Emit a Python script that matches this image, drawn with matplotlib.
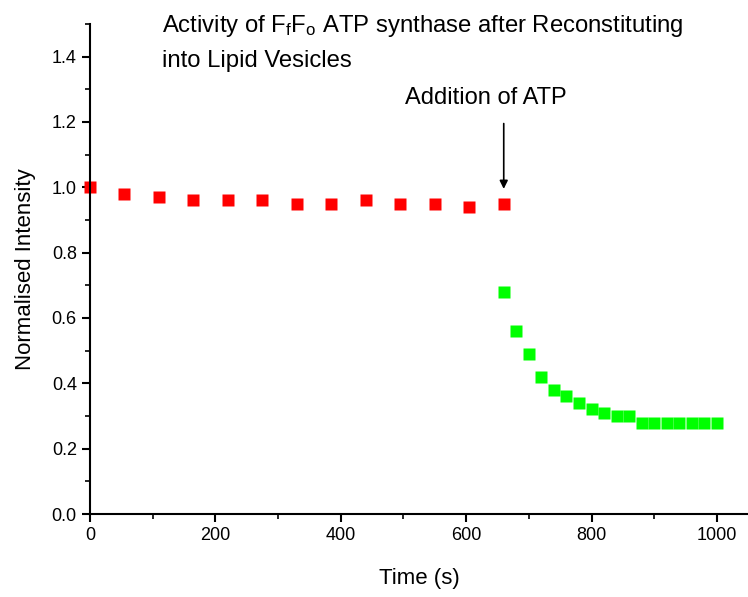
import matplotlib
matplotlib.use("Agg")
import matplotlib.pyplot as plt
from matplotlib.ticker import MultipleLocator

plt.rcParams['font.family'] = ['Liberation Sans', 'DejaVu Sans']
plt.rcParams['mathtext.fontset'] = 'custom'
plt.rcParams['mathtext.rm'] = 'Liberation Sans'
plt.rcParams['mathtext.it'] = 'Liberation Sans'

# Before ATP addition
time_before = [0, 55, 110, 165, 220, 275, 330, 385, 440, 495, 550, 605, 660]
intensity_before = [1.00, 0.98, 0.97, 0.96, 0.96, 0.96, 0.95, 0.95, 0.96, 0.95, 0.95, 0.94, 0.95]

# After ATP addition
time_after = [660, 680, 700, 720, 740, 760, 780, 800, 820, 840, 860,
              880, 900, 920, 940, 960, 980, 1000]
intensity_after = [0.68, 0.56, 0.49, 0.42, 0.38, 0.36, 0.34, 0.32, 0.31, 0.30, 0.30,
                   0.28, 0.28, 0.28, 0.28, 0.28, 0.28, 0.28]

atp_time = 660

fig = plt.figure(figsize=(7.48, 5.97), dpi=100)
ax = fig.add_axes([0.1203, 0.139, 0.88, 0.821])

ax.plot(time_before, intensity_before, 's', color='#ff0000', ms=8, mec='none', clip_on=False)
ax.plot(time_after, intensity_after, 's', color='#00ff00', ms=8, mec='none', clip_on=False)

ax.set_xlim(0, 1050)
ax.set_ylim(0, 1.5)
ax.xaxis.set_major_locator(MultipleLocator(200))
ax.xaxis.set_minor_locator(MultipleLocator(100))
ax.yaxis.set_minor_locator(MultipleLocator(0.1))
ax.set_yticks([0.0, 0.2, 0.4, 0.6, 0.8, 1.0, 1.2, 1.4])
ax.set_yticklabels(['0.0', '0.2', '0.4', '0.6', '0.8', '1.0', '1.2', '1.4'])

for s in ['top', 'right']:
    ax.spines[s].set_visible(False)
for s in ['left', 'bottom']:
    ax.spines[s].set_linewidth(1.5)

ax.tick_params(which='major', direction='out', length=6, width=1.5, labelsize=13)
ax.tick_params(which='minor', direction='out', length=3.5, width=1.2)

ax.set_xlabel('Time (s)', fontsize=16, labelpad=17)
ax.set_ylabel('Normalised Intensity', fontsize=16, labelpad=11)

ax.text(115, 1.495, r'Activity of F$_\mathrm{f}$F$_\mathrm{o}$ ATP synthase after Reconstituting',
        fontsize=17.2, va='center', ha='left')
ax.text(115, 1.385, 'into Lipid Vesicles', fontsize=17.2, va='center', ha='left')
ax.text(631, 1.273, 'Addition of ATP', fontsize=17, va='center', ha='center')

ax.annotate('', xy=(atp_time, 0.995), xytext=(atp_time, 1.195),
            arrowprops=dict(arrowstyle='-|>', color='black', lw=1.2, mutation_scale=12,
                            shrinkA=0, shrinkB=0))

fig.savefig('out.png', dpi=100)
